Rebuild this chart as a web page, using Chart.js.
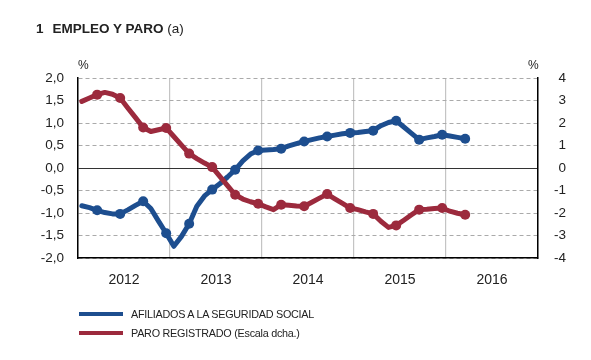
<!DOCTYPE html>
<html>
<head>
<meta charset="utf-8">
<script src="https://cdn.jsdelivr.net/npm/chart.js@4.4.0/dist/chart.umd.min.js"></script>
<style>
  body { margin: 0; background: #fff; }
  #wrap { position: relative; width: 591px; height: 360px; font-family: "Liberation Sans", Arial, sans-serif; color: #222; }
  #c { position: absolute; left: 0; top: 0; }
  .title { position: absolute; left: 36px; top: 22px; font-size: 13.5px; line-height: 13px; white-space: nowrap; }
  .pct { position: absolute; top: 59px; font-size: 12px; line-height: 12px; }
  .legend { position: absolute; left: 79px; top: 304px; font-size: 10.8px; letter-spacing: -0.25px; }
  .legend .row { display: flex; align-items: center; height: 19px; }
  .legend .swatch { width: 44px; height: 4px; margin-right: 8px; }
</style>
</head>
<body>
<div id="wrap">
  <canvas id="c" width="591" height="360"></canvas>
  <div class="title"><b>1</b><b style="margin-left:9px">EMPLEO Y PARO</b> (a)</div>
  <div class="pct" style="left:78px">%</div>
  <div class="pct" style="left:528px">%</div>
  <div class="legend" id="legend"></div>
</div>
<script>
// monthly series, Jan 2012 .. Mar 2016
const startYear = 2012;
const years = ['2012', '2013', '2014', '2015', '2016'];
const months = [
  '2012-01','2012-02','2012-03','2012-04','2012-05','2012-06','2012-07','2012-08','2012-09','2012-10','2012-11','2012-12',
  '2013-01','2013-02','2013-03','2013-04','2013-05','2013-06','2013-07','2013-08','2013-09','2013-10','2013-11','2013-12',
  '2014-01','2014-02','2014-03','2014-04','2014-05','2014-06','2014-07','2014-08','2014-09','2014-10','2014-11','2014-12',
  '2015-01','2015-02','2015-03','2015-04','2015-05','2015-06','2015-07','2015-08','2015-09','2015-10','2015-11','2015-12',
  '2016-01','2016-02','2016-03'
];
const afiliados = [
  -0.84, -0.88, -0.94, -0.99, -1.02, -1.02, -0.93, -0.83, -0.74, -0.90, -1.18, -1.45,
  -1.74, -1.52, -1.24, -0.85, -0.62, -0.48, -0.35, -0.20, -0.04, 0.16, 0.31, 0.39,
  0.40, 0.41, 0.43, 0.49, 0.54, 0.59, 0.63, 0.67, 0.70, 0.73, 0.76, 0.78,
  0.79, 0.81, 0.83, 0.94, 1.01, 1.05, 0.91, 0.77, 0.63, 0.67, 0.70, 0.74,
  0.71, 0.68, 0.65
];
const paro = [
  2.96, 3.11, 3.26, 3.36, 3.28, 3.11, 2.67, 2.24, 1.80, 1.62, 1.70, 1.78,
  1.40, 1.02, 0.64, 0.42, 0.22, 0.04, -0.37, -0.78, -1.19, -1.38, -1.50, -1.59,
  -1.73, -1.85, -1.63, -1.66, -1.69, -1.70, -1.52, -1.34, -1.16, -1.37, -1.57, -1.78,
  -1.85, -1.95, -2.04, -2.37, -2.64, -2.55, -2.32, -2.08, -1.85, -1.83, -1.80, -1.78,
  -1.92, -2.01, -2.08
];
const seriesNames = ['AFILIADOS A LA SEGURIDAD SOCIAL', 'PARO REGISTRADO (Escala dcha.)'];
const leftTicks = [-2, -1.5, -1, -0.5, 0, 0.5, 1, 1.5, 2];
const rightTicks = [-4, -3, -2, -1, 0, 1, 2, 3, 4];

const BLUE = '#1d4e8f';
const RED = '#9c2a3d';

// month string -> fractional year, centred in the month
const toX = m => {
  const [y, mo] = m.split('-').map(Number);
  return y + (mo - 0.5) / 12;
};
const toPoints = vals => vals.map((v, i) => ({ x: toX(months[i]), y: v }));
// markers only on quarter-end months
const markerRadius = c => {
  const m = months[c.dataIndex];
  return m && Number(m.split('-')[1]) % 3 === 0 ? 5 : 0;
};

// legend
document.getElementById('legend').innerHTML = seriesNames.map((n, i) =>
  `<div class="row"><span class="swatch" style="background:${i ? RED : BLUE}"></span><span>${n}</span></div>`
).join('');

const xTicks = [];
years.forEach(y => { xTicks.push(+y, +y + 0.5); });
xTicks.push(+years[years.length - 1] + 1);

const font = { family: '"Liberation Sans", Arial, sans-serif', size: 13.5 };

new Chart(document.getElementById('c').getContext('2d'), {
  type: 'line',
  data: {
    datasets: [
      {
        label: seriesNames[0], data: toPoints(afiliados), yAxisID: 'y', order: 1,
        borderColor: BLUE, backgroundColor: BLUE, borderWidth: 5,
        pointRadius: markerRadius, pointBorderWidth: 0, pointBackgroundColor: BLUE,
        borderJoinStyle: 'round', borderCapStyle: 'round', tension: 0
      },
      {
        label: seriesNames[1], data: toPoints(paro), yAxisID: 'y2', order: 0,
        borderColor: RED, backgroundColor: RED, borderWidth: 5,
        pointRadius: markerRadius, pointBorderWidth: 0, pointBackgroundColor: RED,
        borderJoinStyle: 'round', borderCapStyle: 'round', tension: 0
      }
    ]
  },
  options: {
    responsive: false,
    animation: false,
    layout: { padding: { top: 78, left: 0, right: 25, bottom: 0 } },
    plugins: { legend: { display: false }, tooltip: { enabled: false } },
    scales: {
      x: {
        type: 'linear',
        min: startYear,
        max: xTicks[xTicks.length - 1],
        afterBuildTicks: s => { s.ticks = xTicks.map(v => ({ value: v })); },
        afterFit: s => { s.height = 102; },
        grid: {
          color: c => c.tick && Number.isInteger(c.tick.value) ? '#c4c4c4' : 'transparent',
          lineWidth: 1.2,
          drawTicks: false
        },
        border: { display: true, color: '#000', width: 1.5 },
        ticks: {
          autoSkip: false, maxRotation: 0, padding: 14, color: '#222',
          font: { family: font.family, size: 14 },
          callback: v => Number.isInteger(v) ? '' : String(Math.floor(v))
        }
      },
      y: {
        position: 'left',
        min: -2, max: 2,
        afterBuildTicks: s => { s.ticks = leftTicks.map(v => ({ value: v })); },
        afterFit: s => { s.width = 78; },
        grid: {
          color: c => c.tick && c.tick.value === 0 ? '#333' : '#aaa',
          lineWidth: 1,
          drawTicks: false
        },
        border: {
          display: true, color: '#000', width: 1.5,
          dash: c => c.tick && c.tick.value !== 0 ? [4, 3] : []
        },
        ticks: {
          padding: 14, color: '#222', font: font,
          callback: v => v.toFixed(1).replace('.', ',')
        }
      },
      y2: {
        position: 'right',
        min: -4, max: 4,
        afterBuildTicks: s => { s.ticks = rightTicks.map(v => ({ value: v })); },
        afterFit: s => { s.width = 28; },
        grid: { drawOnChartArea: false, drawTicks: false },
        border: { display: true, color: '#000', width: 1.5 },
        ticks: {
          padding: 14, crossAlign: 'far', color: '#222', font: font,
          callback: v => String(v)
        }
      }
    }
  }
});
</script>
</body>
</html>
